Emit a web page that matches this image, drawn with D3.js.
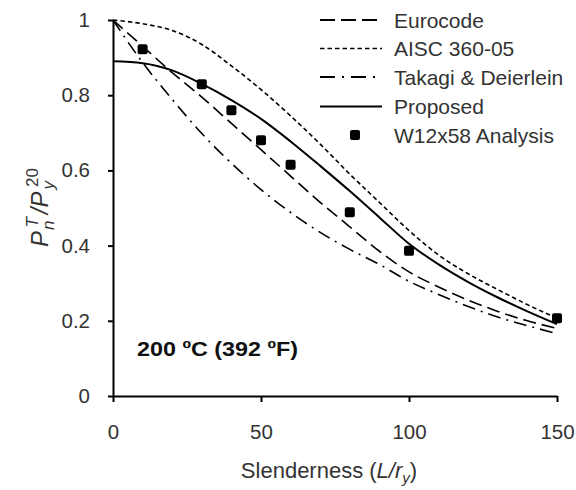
<!DOCTYPE html>
<html>
<head>
<meta charset="utf-8">
<script src="https://cdn.jsdelivr.net/npm/d3@7"></script>
<style>
  body { margin: 0; background: #fff; }
  text { font-family: "Liberation Sans", Arial, sans-serif; }
</style>
</head>
<body>
<svg id="chart" width="576" height="490"></svg>
<script>
// Column capacity ratio vs. slenderness at 200 °C
const slenderness = [0, 10, 20, 30, 40, 50, 60, 70, 80, 90, 100, 110, 120, 130, 140, 150];
const eurocode = [1.0, 0.93, 0.86, 0.795, 0.725, 0.655, 0.585, 0.515, 0.45, 0.385, 0.33, 0.29, 0.255, 0.225, 0.20, 0.18];
const aisc = [1.0, 0.99, 0.972, 0.935, 0.878, 0.815, 0.745, 0.67, 0.59, 0.515, 0.44, 0.375, 0.325, 0.283, 0.243, 0.207];
const takagi = [1.0, 0.887, 0.789, 0.698, 0.619, 0.549, 0.488, 0.435, 0.39, 0.35, 0.305, 0.27, 0.238, 0.21, 0.187, 0.166];
const proposed = [0.89, 0.885, 0.866, 0.83, 0.787, 0.737, 0.677, 0.612, 0.545, 0.475, 0.405, 0.35, 0.303, 0.262, 0.225, 0.191];

// Finite element results for the W12x58 section
const analysisL = [10, 30, 40, 50, 60, 80, 100, 150];
const analysisP = [0.922, 0.829, 0.760, 0.680, 0.615, 0.489, 0.386, 0.207];

const xTicks = [0, 50, 100, 150];
const yTicks = [0, 0.2, 0.4, 0.6, 0.8, 1];
const seriesNames = ["Eurocode", "AISC 360-05", "Takagi & Deierlein", "Proposed", "W12x58 Analysis"];
const titleText = "200 ºC (392 ºF)";

const svg = d3.select("#chart");
const x = d3.scaleLinear().domain([0, 150]).range([113, 557]);
const y = d3.scaleLinear().domain([0, 1]).range([396, 20]);

const textColor = "#333";

// Axes
const xAxis = svg.append("g")
  .attr("transform", `translate(0,${y(0)})`)
  .call(d3.axisBottom(x).tickValues(xTicks).tickFormat(d3.format("d"))
    .tickSize(6).tickSizeOuter(0).tickPadding(22));
const yAxis = svg.append("g")
  .attr("transform", `translate(${x(0)},0)`)
  .call(d3.axisLeft(y).tickValues(yTicks).tickFormat(d => d === 0 || d === 1 ? String(d) : d3.format(".1f")(d))
    .tickSize(5).tickSizeOuter(0).tickPadding(18));

[xAxis, yAxis].forEach(g => {
  g.select(".domain").attr("stroke", "#000").attr("stroke-width", 2);
  g.selectAll(".tick line").attr("stroke", "#000").attr("stroke-width", 2);
  g.selectAll(".tick text").attr("fill", textColor).attr("font-size", 20.5)
    .attr("font-family", "Liberation Sans, Arial, sans-serif");
});

// Curves
const styles = [
  { data: eurocode, dash: "13,6", width: 1.6 },
  { data: aisc, dash: "4.5,3", width: 1.6 },
  { data: takagi, dash: "13,6,2,6", width: 1.6 },
  { data: proposed, dash: null, width: 2 }
];

const line = d3.line()
  .x((d, i) => x(slenderness[i]))
  .y(d => y(d))
  .curve(d3.curveMonotoneX);

styles.forEach(s => {
  svg.append("path")
    .datum(s.data)
    .attr("d", line)
    .attr("fill", "none")
    .attr("stroke", "#000")
    .attr("stroke-width", s.width)
    .attr("stroke-dasharray", s.dash);
});

// Analysis points
const ms = 10;
svg.append("g").selectAll("rect")
  .data(analysisL.map((l, i) => [l, analysisP[i]]))
  .join("rect")
  .attr("x", d => x(d[0]) - ms / 2)
  .attr("y", d => y(d[1]) - ms / 2)
  .attr("width", ms).attr("height", ms)
  .attr("rx", 2).attr("fill", "#000");

// Legend
const legend = svg.append("g");
const rowY = [20, 48.5, 77, 106.5, 135];
const legendStyles = [
  { dash: "15,6", width: 1.8 },
  { dash: "4.5,3", width: 1.6 },
  { dash: "15,7,2,7", width: 1.8 },
  { dash: null, width: 2 }
];
legendStyles.forEach((s, i) => {
  legend.append("line")
    .attr("x1", 320).attr("x2", 382)
    .attr("y1", rowY[i]).attr("y2", rowY[i])
    .attr("stroke", "#000").attr("stroke-width", s.width)
    .attr("stroke-dasharray", s.dash);
});
legend.append("rect")
  .attr("x", 355 - ms / 2).attr("y", rowY[4] - ms / 2)
  .attr("width", ms).attr("height", ms).attr("rx", 2).attr("fill", "#000");
legend.selectAll("text.lab")
  .data(seriesNames)
  .join("text")
  .attr("class", "lab")
  .attr("x", 394)
  .attr("y", (d, i) => rowY[i] + 7.5)
  .attr("font-size", 21)
  .attr("fill", textColor)
  .text(d => d);

// Temperature label
svg.append("text")
  .attr("x", 137).attr("y", 356)
  .attr("font-size", 20.5).attr("font-weight", "bold")
  .attr("textLength", 161).attr("lengthAdjust", "spacingAndGlyphs")
  .attr("fill", "#111")
  .text(titleText);

// X axis title
const xt = svg.append("text")
  .attr("x", 329).attr("y", 478)
  .attr("text-anchor", "middle")
  .attr("font-size", 22)
  .attr("fill", textColor);
xt.append("tspan").text("Slenderness (");
xt.append("tspan").attr("font-style", "italic").text("L/r");
xt.append("tspan").attr("font-style", "italic").attr("font-size", 15).attr("dy", 5).text("y");
xt.append("tspan").attr("dy", -5).text(")");

// Y axis title: P_n^T / P_y^20
const yt = svg.append("text")
  .attr("transform", "translate(48,247) rotate(-90)")
  .attr("font-size", 24)
  .attr("fill", textColor);
yt.append("tspan").attr("font-style", "italic").text("P");
yt.append("tspan").attr("font-style", "italic").attr("font-size", 17).attr("dx", 1).attr("dy", 6).text("n");
yt.append("tspan").attr("font-style", "italic").attr("font-size", 17).attr("dx", -7).attr("dy", -16).text("T");
yt.append("tspan").attr("font-style", "italic").attr("dx", 3).attr("dy", 10).text("/P");
yt.append("tspan").attr("font-style", "italic").attr("font-size", 17).attr("dx", 2).attr("dy", 6).text("y");
yt.append("tspan").attr("font-size", 17).attr("dx", -6).attr("dy", -16).text("20");
</script>
</body>
</html>
